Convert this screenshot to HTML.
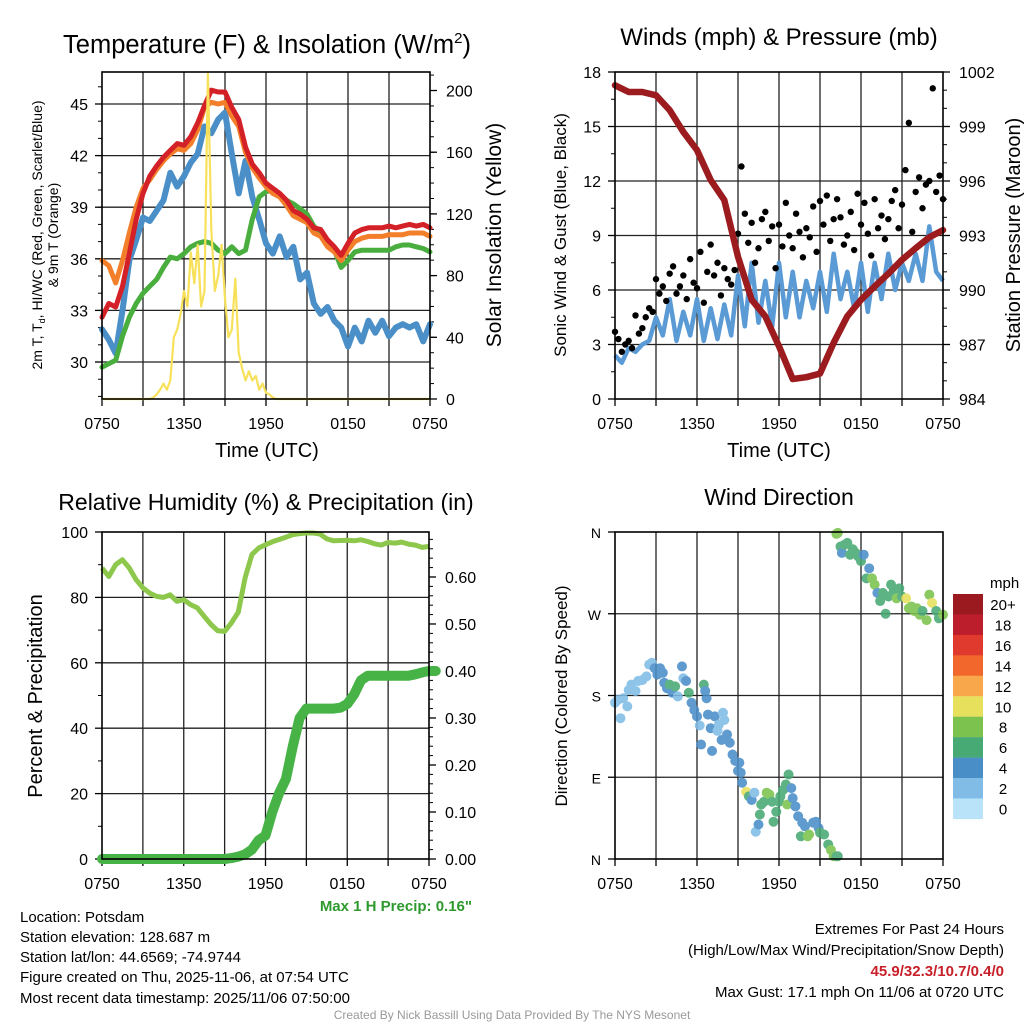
<!DOCTYPE html>
<html><head><meta charset="utf-8"><style>
html,body{margin:0;padding:0;background:#fff;}
svg{display:block;font-family:"Liberation Sans",Arial,sans-serif;}
</style></head><body>
<svg id="fig" width="1024" height="1024" viewBox="0 0 1024 1024" xmlns="http://www.w3.org/2000/svg">
<rect width="1024" height="1024" fill="#fff"/>
<g id="layer"></g>
<!-- titles -->
<text x="267" y="53" font-size="25.5" text-anchor="middle">Temperature (F) &amp; Insolation (W/m<tspan font-size="15" dy="-10">2</tspan><tspan dy="10">)</tspan></text>
<text x="779" y="45" font-size="24" text-anchor="middle">Winds (mph) &amp; Pressure (mb)</text>
<text x="266" y="510" font-size="23" text-anchor="middle">Relative Humidity (%) &amp; Precipitation (in)</text>
<text x="779" y="505" font-size="23" text-anchor="middle">Wind Direction</text>
<!-- axis titles -->
<text transform="translate(42,235) rotate(-90)" font-size="14" text-anchor="middle">2m T, T<tspan font-size="9" dy="3">d</tspan><tspan dy="-3">, HI/WC (Red, Green, Scarlet/Blue)</tspan></text>
<text transform="translate(58,235) rotate(-90)" font-size="14" text-anchor="middle">&amp; 9m T (Orange)</text>
<text transform="translate(501,235) rotate(-90)" font-size="21" text-anchor="middle">Solar Insolation (Yellow)</text>
<text x="267" y="457" font-size="20" text-anchor="middle">Time (UTC)</text>
<text transform="translate(566,235) rotate(-90)" font-size="17" text-anchor="middle">Sonic Wind &amp; Gust (Blue, Black)</text>
<text transform="translate(1020,235) rotate(-90)" font-size="20" text-anchor="middle">Station Pressure (Maroon)</text>
<text x="779" y="457" font-size="20" text-anchor="middle">Time (UTC)</text>
<text transform="translate(42,696) rotate(-90)" font-size="20" text-anchor="middle">Percent &amp; Precipitation</text>
<text transform="translate(567,696) rotate(-90)" font-size="17" text-anchor="middle">Direction (Colored By Speed)</text>
<text x="472" y="911" font-size="15" font-weight="bold" fill="#2e9a2e" text-anchor="end">Max 1 H Precip: 0.16"</text>
<!-- info text -->
<g font-size="15">
<text x="20" y="922">Location: Potsdam</text>
<text x="20" y="942">Station elevation: 128.687 m</text>
<text x="20" y="962">Station lat/lon: 44.6569; -74.9744</text>
<text x="20" y="982">Figure created on Thu, 2025-11-06, at 07:54 UTC</text>
<text x="20" y="1003">Most recent data timestamp: 2025/11/06 07:50:00</text>
</g>
<g font-size="15" text-anchor="end">
<text x="1004" y="934">Extremes For Past 24 Hours</text>
<text x="1004" y="955">(High/Low/Max Wind/Precipitation/Snow Depth)</text>
<text x="1004" y="976" fill="#c8202a" font-weight="bold">45.9/32.3/10.7/0.4/0</text>
<text x="1004" y="997">Max Gust: 17.1 mph On 11/06 at 0720 UTC</text>
</g>
<text x="512" y="1019" font-size="12" fill="#999" text-anchor="middle">Created By Nick Bassill Using Data Provided By The NYS Mesonet</text>
</svg>
<script>
// ---- data ----
const xTickLabels = ["0750","1350","1950","0150","0750"];
const temp2m = [32.6,33.4,33.2,34.4,36.3,38.3,39.8,40.8,41.4,41.9,42.3,42.7,42.6,43.1,43.9,44.9,45.8,45.7,45.7,44.8,44.1,42.5,41.5,41.0,40.4,40.1,39.8,39.4,38.8,38.6,38.3,37.8,37.7,37.1,36.7,36.2,36.9,37.5,37.7,37.8,37.8,37.8,37.9,37.8,37.9,38.0,37.9,38.0,37.8];
const temp9m = [35.9,35.6,34.6,35.9,37.5,39.0,40.1,40.6,41.2,41.7,42.1,42.4,42.3,42.7,43.5,44.8,45.1,45.0,45.1,44.3,43.7,42.2,41.3,40.7,40.2,39.8,39.6,39.1,38.5,38.3,38.1,37.5,37.3,36.7,36.4,35.9,36.5,37.0,37.2,37.3,37.3,37.3,37.4,37.4,37.4,37.5,37.5,37.5,37.3];
const dewpoint = [29.7,29.9,30.1,31.5,32.6,33.4,34.0,34.4,34.8,35.5,36.1,36.0,36.3,36.7,36.9,37.0,36.9,36.5,36.3,36.7,36.3,36.5,38.3,39.6,39.9,40.0,39.7,39.4,39.2,38.9,38.6,37.9,37.5,37.1,36.5,35.5,35.9,36.4,36.5,36.5,36.5,36.5,36.5,36.7,36.8,36.8,36.7,36.6,36.4];
const windChill = [31.9,31.3,30.5,33.0,35.9,37.1,38.4,38.2,38.8,39.4,41.0,40.2,40.8,41.6,42.1,43.7,43.3,44.1,44.5,42.1,39.8,41.7,39.6,38.3,36.9,36.3,37.3,36.1,36.7,34.8,35.2,33.4,32.8,33.2,32.4,32.0,30.9,32.0,31.2,32.4,31.7,32.4,31.5,32.0,32.2,32.0,32.2,31.2,32.2];
const solarStart = 3.5;
const solar = [0,1,3,6,10,6,12,40,45,55,70,60,95,75,100,60,70,212,110,70,80,100,65,40,45,78,30,20,12,18,12,15,6,10,4,3,1,0,0,0,0];
const windSpeed = [2.4,2.0,2.8,2.6,3.0,3.2,4.5,3.5,5.5,3.2,4.8,3.5,5.5,3.2,5.0,3.3,5.2,3.5,6.8,4.0,7.5,4.2,6.5,4.0,7.5,4.5,7.0,4.5,6.5,5.0,7.0,4.8,8.0,5.5,7.0,5.0,7.5,4.8,7.5,5.5,8.0,6.0,7.5,6.5,8.0,6.5,9.5,7.0,6.5];
const windGust = [3.7,3.3,2.6,3.0,3.2,2.8,4.6,3.6,3.9,4.5,5.0,4.8,6.6,5.8,6.2,5.4,6.9,7.3,5.8,6.2,6.8,5.5,7.7,6.4,6.1,8.1,5.3,7.0,8.5,6.8,7.5,5.7,7.2,6.6,6.3,7.1,9.1,12.8,10.2,8.6,9.7,7.5,8.3,9.9,10.3,8.7,9.5,7.2,9.6,8.4,10.8,9.0,8.3,10.2,9.2,7.8,9.4,8.9,10.6,8.1,10.9,9.6,11.2,8.7,9.9,11.0,10.0,8.5,9.0,10.3,8.2,11.3,9.6,10.8,9.1,7.9,11.0,9.4,10.1,8.8,9.9,10.9,11.5,9.4,10.7,12.6,15.2,9.2,11.4,12.2,10.5,11.8,12.0,17.1,11.4,12.3,11.0];
const pressure = [1001.27,1000.9,1000.9,1000.72,999.9,998.7,997.7,996.05,994.95,991.83,989.46,988.55,986.9,985.1,985.2,985.4,987.1,988.55,989.46,990.2,990.9,991.66,992.3,992.9,993.3];
const rh = [89.0,86.4,90.0,91.5,89.0,85.4,82.9,81.3,80.3,80.0,80.8,78.8,79.3,77.8,76.8,74.2,71.7,69.8,69.6,72.2,75.5,86.0,93.1,95.1,96.1,97.0,97.7,98.4,99.2,99.5,99.7,99.7,99.4,97.9,97.3,97.4,97.5,97.3,97.6,97.1,96.4,96.0,96.8,96.6,96.9,96.3,96.0,95.3,95.6];
const precip = [0,0,0,0,0,0,0,0,0,0,0,0,0,0,0,0,0,0,0,0.002,0.005,0.01,0.02,0.04,0.05,0.10,0.14,0.17,0.24,0.30,0.32,0.32,0.32,0.32,0.32,0.322,0.33,0.35,0.38,0.39,0.39,0.39,0.39,0.39,0.39,0.39,0.393,0.397,0.40,0.40];
const dirTimes = [0,0.2,0.4,0.6,0.9,1.0,1.2,1.5,1.7,2.0,2.3,2.5,2.7,2.9,3.1,3.3,3.5,3.6,3.8,4.0,4.2,4.4,4.6,4.9,5.0,5.2,5.4,5.6,5.8,6.0,6.2,6.3,6.5,6.6,6.7,6.8,7.0,7.1,7.3,7.5,7.6,7.8,7.9,8.0,8.2,8.4,8.6,8.8,9.0,9.1,9.2,9.3,9.6,9.8,10.0,10.2,10.3,10.5,10.6,10.7,10.9,11.1,11.3,11.5,11.6,11.8,12.0,12.1,12.3,12.5,12.6,12.7,12.9,13.0,13.2,13.4,13.6,13.7,13.9,14.1,14.2,14.5,14.7,14.9,15.0,15.3,15.6,15.8,16.0,16.2,16.3,16.2,16.3,16.5,16.6,16.8,17.0,17.2,17.4,17.6,17.8,18.0,18.2,18.4,18.6,18.8,19.0,19.2,19.4,19.6,19.8,20.0,20.2,20.4,20.6,20.8,21.0,21.3,21.5,21.7,21.9,22.1,22.3,22.5,22.8,23.0,23.2,23.5,23.7,24.0];
const dirDeg = [172,175,155,177,168,186,192,185,196,197,201,214,216,210,203,210,205,194,188,192,183,190,179,212,199,196,183,172,164,157,147,126,192,185,177,159,144,119,157,141,148,131,161,153,137,128,115,108,97,106,95,84,74,69,65,73,30,38,49,60,63,73,71,63,41,52,63,69,76,82,60,93,78,67,58,47,25,40,36,25,27,40,41,34,29,27,16,10,3,3,3,358,359,344,337,346,348,335,341,337,333,328,335,309,320,309,302,293,284,293,270,289,302,295,287,298,289,287,276,278,273,276,269,273,263,291,282,273,265,269];
const dirSpeed = [2,2,2,2,2,2,2,2,2,2,2,2,3,4,4,4,4,4,4,6,4,6,2,4,3,4,6,4,4,4,3,4,6,4,4,4,4,4,4,3,3,4,3,3,4,4,4,4,4,4,4,4,10,6,4,3,3,4,6,6,6,8,8,6,6,6,6,6,6,6,8,6,4,4,4,4,6,4,4,8,8,4,4,4,6,6,6,8,8,6,6,8,8,6,4,6,6,6,6,6,6,6,4,6,4,8,8,4,6,6,6,6,6,6,8,6,6,10,8,8,8,8,8,6,8,8,10,6,6,8];
const cbLabels = ["20+","18","16","14","12","10","8","6","4","2","0"];
const cbColors = ["#9a1a1f","#bd1e2c","#e03a2e","#f2682c","#f8a84a","#e6e05c","#7cc24e","#47a973","#4a8ec8","#80bce6","#b8e3f8"];

// ---- helpers ----
const NS = "http://www.w3.org/2000/svg";
const layer = document.getElementById("layer");
function mk(tag, attrs, parent) {
  const e = document.createElementNS(NS, tag);
  for (const k in attrs) e.setAttribute(k, attrs[k]);
  (parent || layer).appendChild(e);
  return e;
}
function scale(d0, d1, r0, r1) { return v => r0 + (v - d0) * (r1 - r0) / (d1 - d0); }
function halfHours(n) { const a = []; for (let i = 0; i < n; i++) a.push(i * 0.5); return a; }

function panelFrame(name, x0, x1, y0, y1, hGridYs) {
  const g = mk("g", {});
  
  
  for (let h = 3; h < 24; h += 3) {
    const x = x0 + (x1 - x0) * h / 24;
    mk("line", {x1: x, x2: x, y1: y0, y2: y1, stroke: "#222", "stroke-width": 1.3}, g);
  }
  hGridYs.forEach(y => mk("line", {x1: x0, x2: x1, y1: y, y2: y, stroke: "#222", "stroke-width": 1.3}, g));
  for (let h = 0; h <= 24; h += 3) {
    const x = x0 + (x1 - x0) * h / 24;
    mk("line", {x1: x, x2: x, y1: y1, y2: y1 + 7, stroke: "#000", "stroke-width": 1.3}, g);
  }
  xTickLabels.forEach((lab, i) => {
    const x = x0 + (x1 - x0) * i / 4;
    const t = mk("text", {x: x, y: y1 + 30, "font-size": 16, "text-anchor": "middle"});
    t.textContent = lab;
    
    
  });
}
function border(name, x0, x1, y0, y1) {
  const r = mk("rect", {x: x0, y: y0, width: x1 - x0, height: y1 - y0, fill: "none", stroke: "#000", "stroke-width": 1.6});
  
  
}
function yTicks(vals, ys, labels, x, side, fs) {
  vals.forEach((v, i) => {
    const y = ys(v);
    mk("line", {x1: x, x2: x + (side === "left" ? -7 : 7), y1: y, y2: y, stroke: "#000", "stroke-width": 1.3});
    const t = mk("text", {x: side === "left" ? x - 14 : x + 16, y: y + 6, "font-size": fs || 16, "text-anchor": side === "left" ? "end" : "start"});
    t.textContent = labels[i];
    
    
  });
}
function minor(vals, ys, x, side) {
  vals.forEach(v => { const y = ys(v); mk("line", {x1: x, x2: x + (side === "left" ? -4 : 4), y1: y, y2: y, stroke: "#000", "stroke-width": 1}); });
}
function pathFrom(xs, ys, xsc, ysc) {
  return xs.map((t, i) => (i ? "L" : "M") + xsc(t).toFixed(1) + "," + ysc(ys[i]).toFixed(1)).join("");
}

// ===== Panel 1: temperature =====
(function () {
  const x0 = 102, x1 = 430, y0 = 72, y1 = 399;
  const X = scale(0, 24, x0, x1), Y = scale(27.85, 46.86, y1, y0), YS = scale(0, 212, y1, y0);
  const tv = [30, 33, 36, 39, 42, 45];
  panelFrame("temperature", x0, x1, y0, y1, tv.map(Y));
  yTicks(tv, Y, tv.map(String), x0, "left");
  const mn = []; for (let v = 28; v <= 46; v++) mn.push(v); minor(mn, Y, x0, "left");
  const sv = [0, 40, 80, 120, 160, 200];
  yTicks(sv, YS, sv.map(String), x1, "right");
  const smn = []; for (let v = 10; v <= 210; v += 10) smn.push(v); minor(smn, YS, x1, "right");
  const tt = halfHours(49);
  const series = [[windChill, "#4a8fc7", 6, "wind-chill-line"], [dewpoint, "#4aae3f", 5, "dewpoint-line"], [temp9m, "#f47f2a", 5, "temp-9m-line"], [temp2m, "#d42027", 5, "temp-2m-line"]];
  series.forEach(s => {
    const p = mk("path", {d: pathFrom(tt, s[0], X, Y), fill: "none", stroke: s[1], "stroke-width": s[2], "stroke-linejoin": "round", "stroke-linecap": "round"});
    
    
  });
  const st = solar.map((_, i) => solarStart + i * 0.25);
  const sx = [0].concat(st, [24]), sy = [0].concat(solar, [0]);
  const sp = mk("path", {d: pathFrom(sx, sy, X, YS), fill: "none", stroke: "#f8e15a", "stroke-width": 2.2, "stroke-linejoin": "round"});
  
  
  border("temperature", x0, x1, y0, y1);
})();

// ===== Panel 2: winds & pressure =====
(function () {
  const x0 = 615, x1 = 943, y0 = 72, y1 = 399;
  const X = scale(0, 24, x0, x1), Y = scale(0, 18, y1, y0), YP = scale(984, 1002, y1, y0);
  const wv = [0, 3, 6, 9, 12, 15, 18];
  panelFrame("winds", x0, x1, y0, y1, [3, 6, 9, 12, 15].map(Y));
  yTicks(wv, Y, wv.map(String), x0, "left");
  const mn = []; for (let v = 1.5; v < 18; v += 3) mn.push(v); minor(mn, Y, x0, "left");
  const pv = [984, 987, 990, 993, 996, 999, 1002];
  yTicks(pv, YP, pv.map(String), x1, "right");
  const pm = []; for (let v = 985; v < 1002; v++) if ((v - 984) % 3) pm.push(v); minor(pm, YP, x1, "right");
  const tt = halfHours(49);
  const wp = mk("path", {d: pathFrom(tt, windSpeed, X, Y), fill: "none", stroke: "#5b9bd5", "stroke-width": 4.5, "stroke-linejoin": "round"});
  
  
  const gg = mk("g", {});
  
  
  windGust.forEach((v, i) => {
    const c = mk("circle", {cx: X(i * 0.25), cy: Y(v), r: 3.2, fill: "#000"}, gg);
    
    
  });
  const ph = pressure.map((_, i) => i);
  const pp = mk("path", {d: pathFrom(ph, pressure, X, YP), fill: "none", stroke: "#9b1b1e", "stroke-width": 6.5, "stroke-linejoin": "round", "stroke-linecap": "round"});
  
  
  border("winds", x0, x1, y0, y1);
})();

// ===== Panel 3: RH & precip =====
(function () {
  const x0 = 102, x1 = 429, y0 = 532, y1 = 859;
  const X = scale(0, 24, x0, x1), Y = scale(0, 100, y1, y0), YR = scale(0, 0.6957, y1, y0);
  const rv = [0, 20, 40, 60, 80, 100];
  panelFrame("humidity", x0, x1, y0, y1, [20, 40, 60, 80].map(Y));
  yTicks(rv, Y, rv.map(String), x0, "left");
  minor([10, 30, 50, 70, 90], Y, x0, "left");
  const pv = [0, 0.1, 0.2, 0.3, 0.4, 0.5, 0.6];
  yTicks(pv, YR, pv.map(v => v.toFixed(2)), x1, "right");
  const pm = []; for (let v = 0.02; v < 0.69; v += 0.02) pm.push(v); minor(pm, YR, x1, "right");
  const tt = halfHours(49);
  const rp = mk("path", {d: pathFrom(tt, rh, X, Y), fill: "none", stroke: "#8dc84c", "stroke-width": 5, "stroke-linejoin": "round"});
  
  
  const pt = halfHours(precip.length);
  const pp = mk("path", {d: pathFrom(pt, precip, X, YR), fill: "none", stroke: "#47b347", "stroke-width": 10, "stroke-linejoin": "round", "stroke-linecap": "round"});
  
  
  border("humidity", x0, x1, y0, y1);
})();

// ===== Panel 4: wind direction =====
(function () {
  const x0 = 615, x1 = 943, y0 = 532, y1 = 859;
  const X = scale(0, 24, x0, x1), Y = scale(0, 360, y1, y0);
  panelFrame("direction", x0, x1, y0, y1, [90, 180, 270].map(Y));
  yTicks([0, 90, 180, 270, 360], Y, ["N", "E", "S", "W", "N"], x0, "left", 14);
  const g = mk("g", {opacity: 0.88});
  
  
  dirTimes.forEach((t, i) => {
    const bin = Math.min(10, Math.floor(dirSpeed[i] / 2));
    const c = mk("circle", {cx: X(t), cy: Y(dirDeg[i]), r: 5, fill: cbColors[10 - bin]}, g);
    
    
  });
  border("direction", x0, x1, y0, y1);
  const cb = mk("g", {});
  
  
  const t0 = mk("text", {x: 990, y: 588, "font-size": 15}, cb);
  t0.textContent = "mph";
  cbLabels.forEach((lab, i) => {
    const y = 594 + i * 20.45;
    mk("rect", {x: 953, y: y, width: 30, height: 20.6, fill: cbColors[i]}, cb);
    const t = mk("text", {x: 1003, y: y + 16, "font-size": 15, "text-anchor": "middle"}, cb);
    t.textContent = lab;
    
    
  });
})();
</script>
</body></html>
